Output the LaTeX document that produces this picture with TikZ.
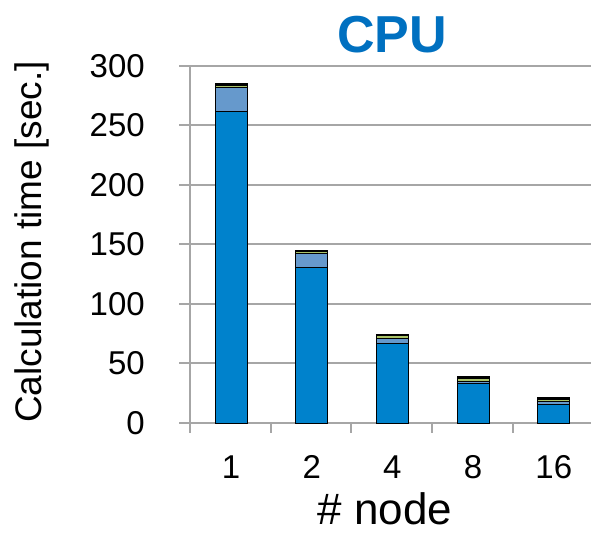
\documentclass[tikz,border=0pt]{standalone}
\usepackage{fontspec}
\setmainfont{Liberation Sans}
\definecolor{cpublue}{RGB}{0,130,204}
\definecolor{cpulight}{RGB}{102,153,204}
\definecolor{cpugreen}{RGB}{170,195,105}
\definecolor{titleblue}{RGB}{0,112,192}
\definecolor{gridgray}{RGB}{166,166,166}
\tikzset{
	grid line/.style={gridgray, line width=2pt},
	bar seg/.style={draw=black, line width=0.8pt},
	tick label/.style={font=\fontsize{33}{33}\selectfont, inner sep=0pt},
}
\begin{document}
\begin{tikzpicture}[x=1pt,y=1pt]
	\useasboundingbox (0,0) rectangle (591,534);

	% plot area, origin at the axes corner
	\begin{scope}[shift={(190,111)}, y=1.19pt]

	% grid and axes
	\foreach \v in {50,100,...,300}
		\draw[grid line] (-11,\v) -- (401,\v);
	\draw[grid line] (-11,0) -- (401,0);
	\draw[grid line] (0,-8.4) -- (0,300);
	\foreach \i in {1,2,3,4}
		\draw[grid line] (80.7*\i,0) -- (80.7*\i,-8.4);

	% y tick labels
	\foreach \v in {0,50,...,300}
		\node[tick label, anchor=east] (yl\v) at (-45,\v) {\v};

	% bars: position / main / second / third / top
	\foreach \x/\a/\b/\c/\d/\n in {41/262/282/284/285.5/1, 121.7/131/142.5/144/145.2/2,
		202.4/66.5/71/73.5/74.5/4, 283/33/35.3/37.5/39.5/8, 363.8/16/18/20/21.6/16} {
		\filldraw[bar seg, fill=cpublue] (\x-16,0) rectangle (\x+16,\a);
		\filldraw[bar seg, fill=cpulight] (\x-16,\a) rectangle (\x+16,\b);
		\filldraw[bar seg, fill=cpugreen] (\x-16,\b) rectangle (\x+16,\c);
		\filldraw[bar seg, fill=black] (\x-16,\c) rectangle (\x+16,\d);
		\node[tick label] (xl\n) at (\x,-37) {\n};
	}

	\end{scope}

	% titles
	\node[font=\fontsize{52}{52}\selectfont\bfseries, text=titleblue, inner sep=0pt] (title) at (392,499) {CPU};
	\node[font=\fontsize{44}{44}\selectfont, inner sep=0pt] (xlabel) at (385,25) {\# node};
	\node[font=\fontsize{37}{37}\selectfont, inner sep=0pt, rotate=90] (ylabel) at (32,292) {Calculation time [sec.]};

\end{tikzpicture}
\end{document}
